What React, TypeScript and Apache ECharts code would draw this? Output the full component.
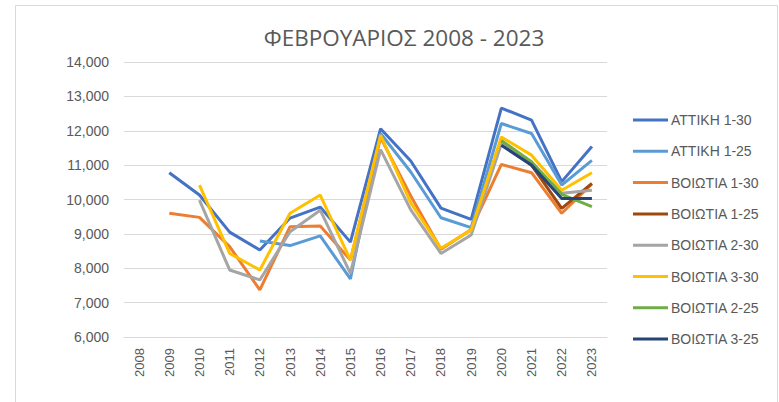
import React, { useEffect, useRef } from "react";
import * as echarts from "echarts";

const years = ["2008","2009","2010","2011","2012","2013","2014","2015","2016","2017","2018","2019","2020","2021","2022","2023"];
const yTicks = [6000, 7000, 8000, 9000, 10000, 11000, 12000, 13000, 14000];

const attiki130 = [null, 10780, 10130, 9050, 8530, 9460, 9780, 8760, 12060, 11120, 9750, 9420, 12660, 12310, 10520, 11540];
const attiki125 = [null, null, null, null, 8790, 8660, 8940, 7690, 11920, 10800, 9470, 9180, 12210, 11920, 10420, 11140];
const voiotia130 = [null, 9600, 9480, 8630, 7370, 9210, 9230, 8240, 11800, 10100, 8550, 9130, 11020, 10780, 9600, 10450];
const voiotia125 = [null, null, null, null, null, null, null, null, null, null, null, null, 11700, 11000, 9740, 10470];
const voiotia230 = [null, null, 9980, 7950, 7660, 9060, 9690, 7850, 11450, 9700, 8430, 8970, 11620, 11050, 10180, 10270];
const voiotia330 = [null, null, 10420, 8430, 7950, 9600, 10130, 8240, 11870, 9900, 8580, 9110, 11820, 11290, 10270, 10780];
const voiotia225 = [null, null, null, null, null, null, null, null, null, null, null, null, 11720, 11100, 10150, 9790];
const voiotia325 = [null, null, null, null, null, null, null, null, null, null, null, null, 11580, 11000, 10030, 10030];

const seriesNames = ["ΑΤΤΙΚΗ 1-30", "ΑΤΤΙΚΗ 1-25", "ΒΟΙΩΤΙΑ 1-30", "ΒΟΙΩΤΙΑ 1-25", "ΒΟΙΩΤΙΑ 2-30", "ΒΟΙΩΤΙΑ 3-30", "ΒΟΙΩΤΙΑ 2-25", "ΒΟΙΩΤΙΑ 3-25"];
const seriesData = [attiki130, attiki125, voiotia130, voiotia125, voiotia230, voiotia330, voiotia225, voiotia325];
const seriesColors = ["#4472C4", "#5B9BD5", "#ED7D31", "#9E480E", "#A5A5A5", "#FFC000", "#70AD47", "#264478"];

const FONT = "'Liberation Sans', Arial, sans-serif";

export default function App() {
  const ref = useRef<HTMLDivElement>(null);
  useEffect(() => {
    if (!ref.current) return;
    const chart = echarts.init(ref.current, undefined, { renderer: "svg" });
    chart.setOption({
      animation: false,
      backgroundColor: "#ffffff",
      title: {
        text: "ΦΕΒΡΟΥΑΡΙΟΣ 2008 - 2023",
        left: 399,
        textAlign: "center",
        top: 21,
        textStyle: { fontFamily: "'Open Sans', " + FONT, fontSize: 22.5, fontWeight: "normal", color: "#595959" },
      },
      graphic: [
        { type: "rect", shape: { x: 15.5, y: 5.5, width: 762, height: 430 }, style: { fill: "none", stroke: "#d9d9d9", lineWidth: 1 }, silent: true },
      ],
      legend: {
        orient: "vertical",
        left: 633,
        top: 112,
        padding: 0,
        icon: "rect",
        itemWidth: 35,
        itemHeight: 3,
        itemGap: 15.3,
        textStyle: { fontFamily: FONT, fontSize: 14, lineHeight: 16, color: "#595959", padding: [0, 0, 0, -2] },
        data: seriesNames,
      },
      grid: { left: 124, right: 172, top: 62, bottom: 65, containLabel: false },
      xAxis: {
        type: "category",
        data: years,
        boundaryGap: true,
        axisLine: { show: true, lineStyle: { color: "#d9d9d9", width: 1 } },
        axisTick: { show: false },
        axisLabel: { rotate: 90, margin: 11, fontFamily: FONT, fontSize: 13, color: "#595959", interval: 0 },
      },
      yAxis: {
        type: "value",
        min: yTicks[0],
        max: yTicks[yTicks.length - 1],
        interval: 1000,
        axisLine: { show: false },
        axisTick: { show: false },
        splitLine: { lineStyle: { color: "#d9d9d9", width: 1 } },
        axisLabel: {
          margin: 15,
          fontFamily: FONT,
          fontSize: 14,
          color: "#595959",
          formatter: (v: number) => v.toLocaleString("en-US"),
        },
      },
      series: seriesNames.map((name, i) => ({
        name,
        type: "line",
        data: seriesData[i],
        symbol: "none",
        showSymbol: false,
        connectNulls: false,
        color: seriesColors[i],
        lineStyle: { width: 3, color: seriesColors[i] },
        itemStyle: { color: seriesColors[i] },
      })),
    });
    return () => chart.dispose();
  }, []);
  return <div ref={ref} style={{ position: "absolute", left: 0, top: 0, width: 779, height: 402 }} />;
}
